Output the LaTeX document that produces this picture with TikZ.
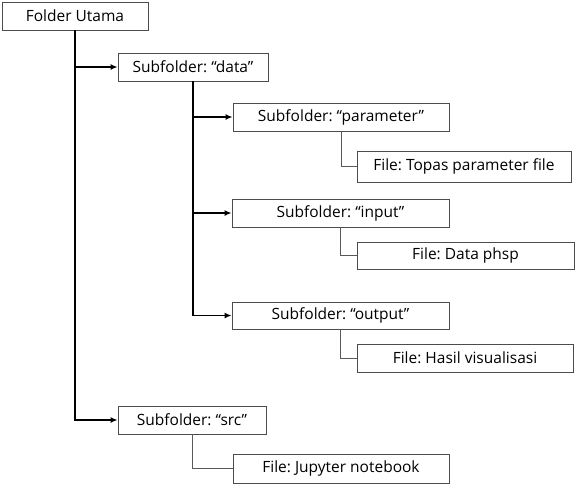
\documentclass[tikz,border=0pt]{standalone}
\usepackage{fontspec}
\setmainfont{Open Sans}
\usetikzlibrary{arrows.meta}
\frenchspacing
\tikzset{
  box/.style={draw=black!70, line width=0.8pt, fill=white, inner sep=0pt, minimum height=28pt, font=\fontsize{15.5}{17}\selectfont\frenchspacing},
  mainarrow/.style={line width=1.8pt, -{Latex[length=7pt,width=6pt]}},
  thinline/.style={draw=black!65, line width=0.7pt},
}
\begin{document}
\begin{tikzpicture}[x=1pt,y=-1pt]
\useasboundingbox (0,0) rectangle (576,490);
\node[box, minimum width=146pt] (root) at (75,16) {Folder Utama};
\node[box, minimum width=150pt] (data) at (193,67) {Subfolder: “data”};
\node[box, minimum width=216pt] (param) at (341,117) {Subfolder: “parameter”};
\node[box, minimum width=214pt, minimum height=31pt] (topas) at (464,166.5) {File: Topas parameter file};
\node[box, minimum width=217pt] (input) at (340.5,213) {Subfolder: “input”};
\node[box, minimum width=217pt, minimum height=27pt] (phsp) at (465.5,255.5) {File: Data phsp};
\node[box, minimum width=217pt, minimum height=27pt] (output) at (340.5,315.5) {Subfolder: “output”};
\node[box, minimum width=216pt] (hasil) at (465,358) {File: Hasil visualisasi};
\node[box, minimum width=148pt] (src) at (192,420) {Subfolder: “src”};
\node[box, minimum width=216pt, minimum height=29pt] (jup) at (341,468.5) {File: Jupyter notebook};

\draw[mainarrow] (root.south) |- (src.west);
\draw[mainarrow] (root.south |- data.west) -- (data.west);
\draw[mainarrow] (data.south) |- (output.west);
\draw[mainarrow] (data.south |- param.west) -- (param.west);
\draw[mainarrow] (data.south |- input.west) -- (input.west);

\draw[thinline] (param.south) |- (topas.west);
\draw[thinline] (input.south) |- (phsp.west);
\draw[thinline] (output.south) |- (hasil.west);
\draw[thinline] (src.south) |- (jup.west);
\end{tikzpicture}
\end{document}
